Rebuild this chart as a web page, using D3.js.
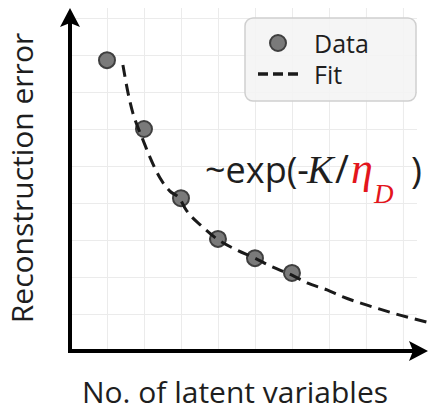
<!DOCTYPE html>
<html>
<head>
<meta charset="utf-8">
<script src="https://cdn.jsdelivr.net/npm/d3@7"></script>
<style>
  html, body { margin: 0; padding: 0; background: #fff; }
  svg { display: block; }
</style>
</head>
<body>
<svg id="chart" width="430" height="411"></svg>
<script>
// Measured reconstruction error per number of latent variables
const latentCounts = [1, 2, 3, 4, 5, 6];
const reconErrors = [7.86, 6.0, 4.13, 3.03, 2.51, 2.11];

// Fitted curve ~exp(-K/eta_D), sampled along the number of latent variables
const fitX = [1.43, 1.57, 1.70, 1.84, 1.95, 2.16, 2.43, 2.70, 2.97, 3.11, 3.59, 3.97, 4.51, 5.0, 5.41, 6.0, 6.41, 6.95, 7.38, 8.03, 8.92, 9.73];
const fitY = [7.73, 6.97, 6.43, 6.03, 5.76, 5.24, 4.68, 4.32, 4.11, 3.86, 3.35, 3.03, 2.73, 2.51, 2.30, 2.05, 1.84, 1.65, 1.46, 1.24, 0.97, 0.76];

// Background grid positions (no tick labels are shown)
const gridTicksX = [1, 2, 3, 4, 5, 6, 7, 8, 9];
const gridTicksY = [1, 2, 3, 4, 5, 6, 7, 8, 9];

const legendLabels = ["Data", "Fit"];

const svg = d3.select("#chart");
const sans = "'Open Sans', 'Noto Sans', sans-serif";
const serif = "'Liberation Serif', 'DejaVu Serif', serif";
const ink = "#1e1e1e";

const x = d3.scaleLinear().domain([0, 9.38]).range([70, 417]);
const y = d3.scaleLinear().domain([0, 9.27]).range([351, 8]);

// Grid
const grid = svg.append("g").attr("class", "grid");
grid.append("g")
  .attr("transform", `translate(0,${y(0)})`)
  .call(d3.axisBottom(x).tickValues(gridTicksX).tickSize(-(y(0) - y(9.27))).tickFormat(""))
  .call(g => g.select(".domain").remove());
grid.append("g")
  .attr("transform", `translate(${x(0)},0)`)
  .call(d3.axisLeft(y).tickValues(gridTicksY).tickSize(-(x(9.38) - x(0))).tickFormat(""))
  .call(g => g.select(".domain").remove());
grid.selectAll(".tick line").attr("stroke", "#ebebeb").attr("stroke-width", 1);

// Axes with arrow heads
const defs = svg.append("defs");
defs.append("marker")
  .attr("id", "arrow")
  .attr("viewBox", "-20 -11 22 22")
  .attr("refX", 0).attr("refY", 0)
  .attr("markerWidth", 22).attr("markerHeight", 22)
  .attr("markerUnits", "userSpaceOnUse")
  .attr("orient", "auto")
  .append("path")
  .attr("d", "M0,0 L-19,-10 L-15,0 L-19,10 Z")
  .attr("fill", "#000");

const axes = svg.append("g").attr("class", "axes");
axes.append("line")
  .attr("x1", x(0)).attr("y1", y(0))
  .attr("x2", x(0)).attr("y2", y(9.27) + 14)
  .attr("stroke", "#000").attr("stroke-width", 4)
  .attr("stroke-linecap", "square");
axes.append("path")
  .attr("d", `M${x(0)},${y(0)} L${x(0)},${y(9.27)}`)
  .attr("stroke", "none").attr("fill", "none")
  .attr("marker-end", "url(#arrow)");
axes.append("line")
  .attr("x1", x(0)).attr("y1", y(0))
  .attr("x2", 414).attr("y2", y(0))
  .attr("stroke", "#000").attr("stroke-width", 4)
  .attr("stroke-linecap", "square");
axes.append("path")
  .attr("d", `M${x(0)},${y(0)} L428,${y(0)}`)
  .attr("stroke", "none").attr("fill", "none")
  .attr("marker-end", "url(#arrow)");

// Data points
svg.append("g").attr("class", "points")
  .selectAll("circle")
  .data(latentCounts.map((k, i) => ({ k, e: reconErrors[i] })))
  .join("circle")
  .attr("cx", d => x(d.k))
  .attr("cy", d => y(d.e))
  .attr("r", 8)
  .attr("fill", "#7a7a7a")
  .attr("stroke", "#3f3f3f")
  .attr("stroke-width", 2);

// Fit curve
const fitLine = d3.line()
  .x(d => x(d[0]))
  .y(d => y(d[1]))
  .curve(d3.curveMonotoneX);
svg.append("path")
  .datum(fitX.map((v, i) => [v, fitY[i]]))
  .attr("d", fitLine)
  .attr("fill", "none")
  .attr("stroke", "#1a1a1a")
  .attr("stroke-width", 3)
  .attr("stroke-dasharray", "12,7");

// Legend
const legend = svg.append("g").attr("class", "legend");
legend.append("rect")
  .attr("x", 245).attr("y", 18)
  .attr("width", 171).attr("height", 83)
  .attr("rx", 8)
  .attr("fill", "#f4f4f4").attr("fill-opacity", 0.9)
  .attr("stroke", "#cfcfcf").attr("stroke-width", 1.5);
legend.append("circle")
  .attr("cx", 278).attr("cy", 43).attr("r", 8)
  .attr("fill", "#7a7a7a").attr("stroke", "#3f3f3f").attr("stroke-width", 2);
legend.append("line")
  .attr("x1", 258).attr("x2", 300)
  .attr("y1", 74).attr("y2", 74)
  .attr("stroke", "#1a1a1a").attr("stroke-width", 3.5)
  .attr("stroke-dasharray", "10,5");
legend.selectAll("text")
  .data(legendLabels)
  .join("text")
  .attr("x", 314)
  .attr("y", (d, i) => 53 + i * 31)
  .attr("font-family", sans)
  .attr("font-size", 25)
  .attr("fill", ink)
  .text(d => d);

// Fit formula annotation
const formula = svg.append("text")
  .attr("x", 205).attr("y", 183)
  .attr("font-family", sans)
  .attr("font-size", 36)
  .attr("fill", ink);
formula.append("tspan").text("~exp(-");
formula.append("tspan").attr("x", 307).attr("font-family", serif).attr("font-style", "italic").attr("font-size", 40).text("K");
formula.append("tspan").attr("x", 335).attr("font-size", 38).text("/");
formula.append("tspan").attr("x", 351).attr("font-family", serif).attr("font-style", "italic").attr("font-size", 44).attr("fill", "#e3151c").text("η");
formula.append("tspan").attr("x", 374).attr("font-family", serif).attr("font-style", "italic").attr("font-size", 27).attr("fill", "#e3151c").attr("dy", 20).text("D");
formula.append("tspan").attr("x", 411).attr("dy", -20).attr("font-size", 37).text(")");

// Axis titles
svg.append("text")
  .attr("transform", "translate(33,178) rotate(-90)")
  .attr("text-anchor", "middle")
  .attr("font-family", sans)
  .attr("font-size", 30)
  .attr("fill", ink)
  .text("Reconstruction error");

svg.append("text")
  .attr("x", 235).attr("y", 403)
  .attr("text-anchor", "middle")
  .attr("font-family", sans)
  .attr("font-size", 30)
  .attr("fill", ink)
  .text("No. of latent variables");
</script>
</body>
</html>
